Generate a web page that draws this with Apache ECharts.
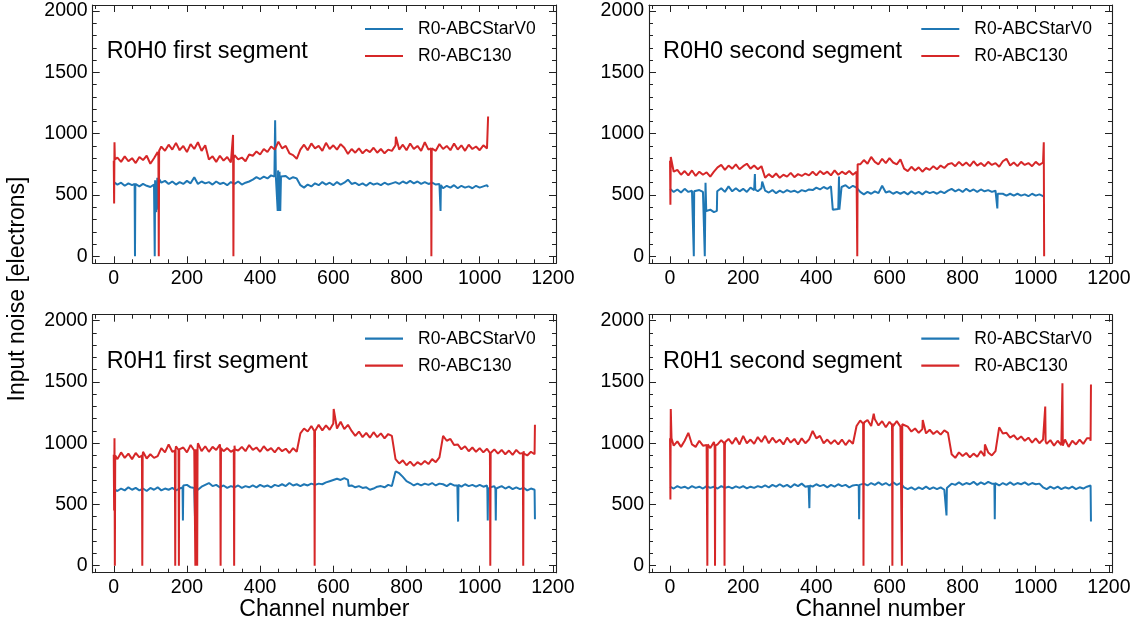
<!DOCTYPE html>
<html><head><meta charset="utf-8">
<script src="https://cdn.jsdelivr.net/npm/echarts@6/dist/echarts.min.js"></script>
<style>html,body{margin:0;padding:0;background:#fff}#c{width:1142px;height:628px}</style>
</head><body><div id="c"></div>
<script>
// ---------------- data ----------------
const STEP = 10; // base samples every 10 channels
const seriesNames = ['R0-ABCStarV0', 'R0-ABC130'];
const panelTitles = ['R0H0 first segment', 'R0H0 second segment', 'R0H1 first segment', 'R0H1 second segment'];
const xTitle = 'Channel number';
const yTitle = 'Input noise [electrons]';

// Panel 1: R0H0 first segment (channels 0..1023)
const p1Red = [
  780, 805, 770, 815, 775, 800, 760, 810, 785, 820, 755, 800,
  850, 895, 860, 910, 870, 925, 865, 900, 850, 915, 875, 930, 860, 905,
  790, 815, 770, 820, 780, 810, 765, 825, 790, 805, 775, 830,
  820, 855, 830, 875, 850, 895, 870, 935, 880, 900, 840, 825, 795,
  870, 910, 865, 920, 880, 900, 860, 925, 875, 905, 870, 915, 885,
  835, 875, 845, 880, 840, 870, 850, 885, 845, 875, 840, 870, 860,
  905, 870, 910, 865, 920, 875, 900, 860, 930, 870, 895, 860, 915, 875, 900, 865, 920, 870, 905, 860, 910, 875, 895, 865, 905, 880
];
const p1RedSpikes = [[1,430],[2,930],[3,790],[122,820],[123,0],[124,860],[326,990],[327,0],[328,800],[771,975],[867,880],[868,0],[869,880],[1022,880],[1023,1140]];
const p1Blue = [
  605, 585, 600, 575, 595, 580, 600, 570, 590, 575, 565, 585,
  625, 600, 615, 590, 610, 585, 605, 590, 615, 595, 645, 590, 610, 595,
  605, 585, 610, 590, 600, 580, 605, 590, 610, 585, 600, 610,
  625, 645, 630, 650, 635, 660, 645, 665, 640, 655, 630, 645, 635,
  580, 560, 585, 570, 595, 580, 605, 585, 600, 580, 605, 585, 600,
  625, 590, 600, 580, 595, 575, 600, 585, 595, 580, 600, 585, 595,
  605, 590, 610, 595, 615, 595, 610, 590, 605, 590, 600, 585, 590, 555, 575, 560, 580, 555, 575, 560, 570, 555, 575, 560, 570, 580
];
const p1BlueSpikes = [[57,590],[58,0],[59,590],[111,580],[112,0],[113,620],[116,360],[119,640],[122,380],[124,630],[439,650],[441,1110],[443,650],[447,660],[448,370],[449,700],[451,370],[453,690],[455,370],[457,650],[892,590],[893,370],[894,580],[1023,565]];

// Panel 2: R0H0 second segment (channels 0..1023)
const p2Red = [
  780, 690, 705, 665, 695, 660, 700, 655, 690, 665, 685, 650, 690,
  725, 745, 705, 740, 715, 750, 710, 735, 755, 715, 740, 710, 735,
  640, 670, 645, 675, 640, 665, 650, 680, 645, 670, 655, 675, 660,
  690, 660, 695, 670, 690, 660, 700, 665, 690, 670, 695, 665, 690,
  750, 785, 755, 810, 770, 750, 795, 760, 800, 765, 750, 790,
  715, 695, 730, 700, 725, 690, 720, 705, 735, 710, 740, 720, 750,
  760, 735, 770, 740, 765, 735, 775, 740, 760, 735, 770, 745, 760, 730, 775, 795, 740, 765, 735, 770, 745, 760, 735, 770, 745, 765
];
const p2RedSpikes = [[1,420],[2,810],[511,680],[512,0],[513,750],[553,820],[1021,760],[1022,930],[1023,0]];
const p2Blue = [
  550, 525, 545, 520, 550, 525, 535, 520, 540, 525, 365, 380, 360,
  540, 555, 525, 570, 530, 555, 530, 550, 525, 560, 540, 530, 555,
  535, 520, 540, 515, 535, 520, 540, 525, 535, 520, 540, 530, 545,
  540, 560, 545, 565, 550, 570, 375, 385, 560, 580, 555, 575, 560,
  525, 505, 525, 510, 530, 515, 575, 520, 530, 510, 525, 510,
  525, 505, 530, 510, 525, 505, 530, 515, 525, 510, 530, 515, 535,
  550, 530, 545, 525, 550, 530, 545, 525, 545, 530, 540, 525, 535, 505, 510, 495, 510, 495, 510, 495, 505, 490, 510, 495, 505, 490
];
const p2BlueSpikes = [[64,530],[65,0],[66,530],[94,525],[95,0],[97,600],[99,370],[128,370],[129,530],[231,545],[232,670],[233,545],[252,610],[444,560],[445,380],[462,650],[463,380],[468,380],[469,565],[894,530],[895,390],[896,510],[1023,490]];

// Panel 3: R0H1 first segment (channels 0..1151)
const p3Red = [
  905, 870, 925, 880, 915, 870, 920, 885, 930, 875, 910, 880, 895,
  960, 925, 990, 930, 975, 935, 965, 925, 985, 940, 1000, 935, 975, 930, 970, 945, 990, 935, 960, 930, 980, 940, 970, 935, 985, 945, 965, 930, 975, 940, 960, 925, 965, 935, 955, 920, 960, 930,
  1080, 1120, 1095, 1140, 1100, 1150, 1105, 1145, 1110, 1160, 1120, 1175, 1115, 1150,
  1100, 1060, 1095, 1050, 1085, 1045, 1090, 1050, 1080, 1040, 1075, 1060,
  870, 835, 860, 820, 850, 815, 845, 825, 855, 830, 870, 845, 885,
  1060, 1020, 1035, 985, 990, 950, 975, 935, 965, 930, 960, 925, 955, 920, 950, 915, 945, 910, 940, 905, 945, 915, 935, 900, 930, 910
];
const p3RedSpikes = [[1,450],[2,1040],[3,0],[4,900],[77,900],[78,0],[79,900],[167,940],[168,0],[169,950],[177,945],[178,0],[179,950],[222,950],[223,0],[224,950],[227,950],[228,0],[229,955],[291,960],[292,0],[293,960],[328,945],[329,0],[331,950],[548,1100],[549,0],[551,1110],[601,1280],[1028,920],[1029,0],[1031,925],[1118,920],[1119,0],[1121,915],[1151,1150]];
const p3Blue = [
  625, 610, 630, 615, 640, 620, 635, 615, 630, 610, 635, 620, 640, 615, 630, 620, 635, 615, 630, 655,
  660, 640, 635, 620, 645, 660, 675, 650, 660, 640, 655, 635, 650, 640, 655, 635, 650, 640, 655, 640, 660, 645, 655, 640, 660, 650, 665, 650, 675, 655, 665,
  650, 665, 655, 670, 660, 670, 665, 680, 690, 700, 710, 700, 715, 700,
  655, 640, 650, 635, 640, 620, 630, 645, 650, 640, 660, 650,
  770, 755, 725, 690, 675, 655, 670, 655, 670, 660, 675, 655, 670,
  665, 650, 670, 655, 665, 645, 665, 650, 660, 645, 660, 645, 655, 640, 650, 635, 650, 630, 645, 625, 640, 625, 635, 615, 630, 620
];
const p3BlueSpikes = [[188,640],[189,370],[191,650],[221,640],[222,400],[223,630],[641,700],[642,650],[775,780],[939,655],[941,360],[942,660],[1021,625],[1022,370],[1023,630],[1043,630],[1044,370],[1045,630],[1151,380]];

// Panel 4: R0H1 second segment (channels 0..1151)
const p4Red = [
  1040, 980, 1015, 970, 1020, 1085, 990, 970, 1020, 980,
  985, 960, 1010, 990, 1025, 980, 1035, 995, 1045, 990, 1060, 1000, 1030, 995, 1050, 1010, 1060, 1000, 1045, 1005, 1030, 990, 1045, 1005, 1035, 990, 1040, 1000, 1030,
  1100, 1040, 1060, 1000, 1030, 995, 1025, 990, 1030, 985, 1025, 995,
  1140, 1185, 1150, 1190, 1140, 1195, 1145, 1180, 1130, 1175, 1140, 1180, 1135, 1170,
  1135, 1095, 1120, 1085, 1115, 1080, 1110, 1075, 1100, 1070, 1105, 1085,
  910, 880, 925, 895, 920, 885, 915, 890, 935, 895, 925, 900, 935,
  1130, 1080, 1085, 1045, 1065, 1030, 1055, 1020, 1045, 1005, 1040, 1000, 1030, 995, 1025, 980, 1020, 985, 1030, 970, 1020, 990, 1030, 995, 1040, 1020
];
const p4RedSpikes = [[1,540],[2,1280],[4,1040],[101,985],[102,0],[103,990],[122,975],[123,0],[124,980],[148,1000],[149,0],[151,1010],[528,1160],[529,0],[531,1170],[557,1240],[607,1150],[608,0],[609,1160],[633,1150],[634,0],[635,1155],[691,1190],[861,990],[1025,1020],[1026,1300],[1027,1015],[1072,1000],[1073,1490],[1074,980],[1149,1040],[1151,1480]];
const p4Blue = [
  645, 630, 650, 635, 645, 630, 650, 635, 645, 630, 650, 635, 645, 630, 650, 635, 645, 632, 648, 635, 650, 632, 645, 635, 650, 640,
  655, 640, 660, 645, 665, 645, 660, 640, 665, 650, 670, 645, 660, 645, 665, 650, 660, 640, 660, 645, 665, 650, 660, 640, 655,
  660, 650, 670, 655, 675, 660, 680, 660, 675, 655, 680, 660, 675,
  640, 625, 640, 620, 640, 625, 645, 625, 640, 625, 640, 620, 645,
  670, 660, 680, 660, 675, 665, 685, 660, 680, 665, 685, 670, 665, 655, 675, 660, 680, 660, 675, 665, 680, 660, 675, 665, 670,
  640, 625, 645, 630, 645, 625, 640, 630, 645, 625, 640, 630, 645, 655
];
const p4BlueSpikes = [[379,650],[381,470],[382,655],[516,655],[517,380],[518,660],[755,630],[756,410],[757,635],[887,670],[888,380],[889,675],[1151,360]];

// ---------------- build ----------------
function build(base, spikes) {
  const pts = base.map((v, i) => [i * STEP, v]).concat(spikes.map(p => [p[0], p[1]]));
  pts.sort((a, b) => a[0] - b[0]);
  return pts;
}
const panels = [
  { blue: build(p1Blue, p1BlueSpikes), red: build(p1Red, p1RedSpikes) },
  { blue: build(p2Blue, p2BlueSpikes), red: build(p2Red, p2RedSpikes) },
  { blue: build(p3Blue, p3BlueSpikes), red: build(p3Red, p3RedSpikes) },
  { blue: build(p4Blue, p4BlueSpikes), red: build(p4Red, p4RedSpikes) }
];

const FONT = '"Liberation Sans", Arial, Helvetica, sans-serif';
const BLUE = '#1f77b4', RED = '#d62728';
const X_MIN = -57.55, X_MAX = 1208.55, Y_MIN = -57, Y_MAX = 2049;
const grids = [
  { left: 92.7, top: 5, width: 463.3, height: 258.3 },
  { left: 649, top: 5, width: 463, height: 258.3 },
  { left: 92.7, top: 314.7, width: 463.3, height: 258 },
  { left: 649, top: 314.7, width: 463, height: 258 }
];

const axisLine = { show: true, onZero: false, lineStyle: { color: '#222', width: 1.1 } };
const tick = { show: true, inside: true, length: 7, lineStyle: { color: '#222', width: 1 } };
const minor = (n) => ({ show: true, splitNumber: n, length: 4, lineStyle: { color: '#222', width: 1 } });
const labelFmt = (step) => (v) => (Math.abs(v / step - Math.round(v / step)) < 1e-6 ? String(Math.round(v)) : '');

const xAxes = [], yAxes = [], series = [], titles = [], legends = [];
grids.forEach((g, i) => {
  const bottom = i >= 2;
  xAxes.push({
    type: 'value', gridIndex: i, position: 'bottom', min: X_MIN, max: X_MAX, splitNumber: 6,
    axisLine, axisTick: tick, minorTick: minor(4), splitLine: { show: false },
    axisLabel: { show: true, inside: false, margin: 5, color: '#000', fontFamily: FONT, fontSize: 19.5, formatter: labelFmt(200), showMinLabel: false, showMaxLabel: false },
    name: bottom ? xTitle : '', nameLocation: 'middle', nameGap: 25,
    nameTextStyle: { color: '#000', fontFamily: FONT, fontSize: 23 }
  });
  xAxes.push({
    type: 'value', gridIndex: i, position: 'top', min: X_MIN, max: X_MAX, splitNumber: 6,
    axisLine, axisTick: tick, minorTick: minor(4), splitLine: { show: false }, axisLabel: { show: false }
  });
  yAxes.push({
    type: 'value', gridIndex: i, position: 'left', min: Y_MIN, max: Y_MAX, splitNumber: 4,
    axisLine, axisTick: tick, minorTick: minor(5), splitLine: { show: false },
    axisLabel: { show: true, margin: 5, color: '#000', fontFamily: FONT, fontSize: 19.5, formatter: labelFmt(500), showMinLabel: false, showMaxLabel: false }
  });
  yAxes.push({
    type: 'value', gridIndex: i, position: 'right', min: Y_MIN, max: Y_MAX, splitNumber: 4,
    axisLine, axisTick: tick, minorTick: minor(5), splitLine: { show: false }, axisLabel: { show: false }
  });
  const p = panels[i];
  series.push({
    type: 'line', name: seriesNames[0] + '#' + i, xAxisIndex: 2 * i, yAxisIndex: 2 * i,
    data: p.blue, showSymbol: false, symbol: 'none', lineStyle: { color: BLUE, width: 2 }, itemStyle: { color: BLUE },
    animation: false
  });
  series.push({
    type: 'line', name: seriesNames[1] + '#' + i, xAxisIndex: 2 * i, yAxisIndex: 2 * i,
    data: p.red, showSymbol: false, symbol: 'none', lineStyle: { color: RED, width: 2 }, itemStyle: { color: RED },
    animation: false
  });
  titles.push({
    text: panelTitles[i], left: g.left + 14, top: g.top + 35, padding: 0,
    textStyle: { color: '#000', fontFamily: FONT, fontSize: 23.5, fontWeight: 'normal' }
  });
  legends.push({
    orient: 'vertical', left: g.left + 272.3, top: g.top + 15, padding: 0,
    icon: 'rect', itemWidth: 38, itemHeight: 2.2, itemGap: 9,
    data: [seriesNames[0] + '#' + i, seriesNames[1] + '#' + i],
    formatter: (n) => n.split('#')[0],
    textStyle: { color: '#000', fontFamily: FONT, fontSize: 17.5, padding: [0, 0, 0, 10], lineHeight: 18 },
    selectedMode: false
  });
});

const chart = echarts.init(document.getElementById('c'), null, { renderer: 'canvas' });
chart.setOption({
  animation: false,
  backgroundColor: '#fff',
  grid: grids,
  xAxis: xAxes,
  yAxis: yAxes,
  title: titles,
  legend: legends,
  series: series,
  graphic: [{
    type: 'text', x: 18, y: 289, rotation: Math.PI / 2,
    style: { text: yTitle, fill: '#000', font: '23px ' + FONT, textAlign: 'center', textVerticalAlign: 'middle' }
  }]
});
</script>
</body></html>
